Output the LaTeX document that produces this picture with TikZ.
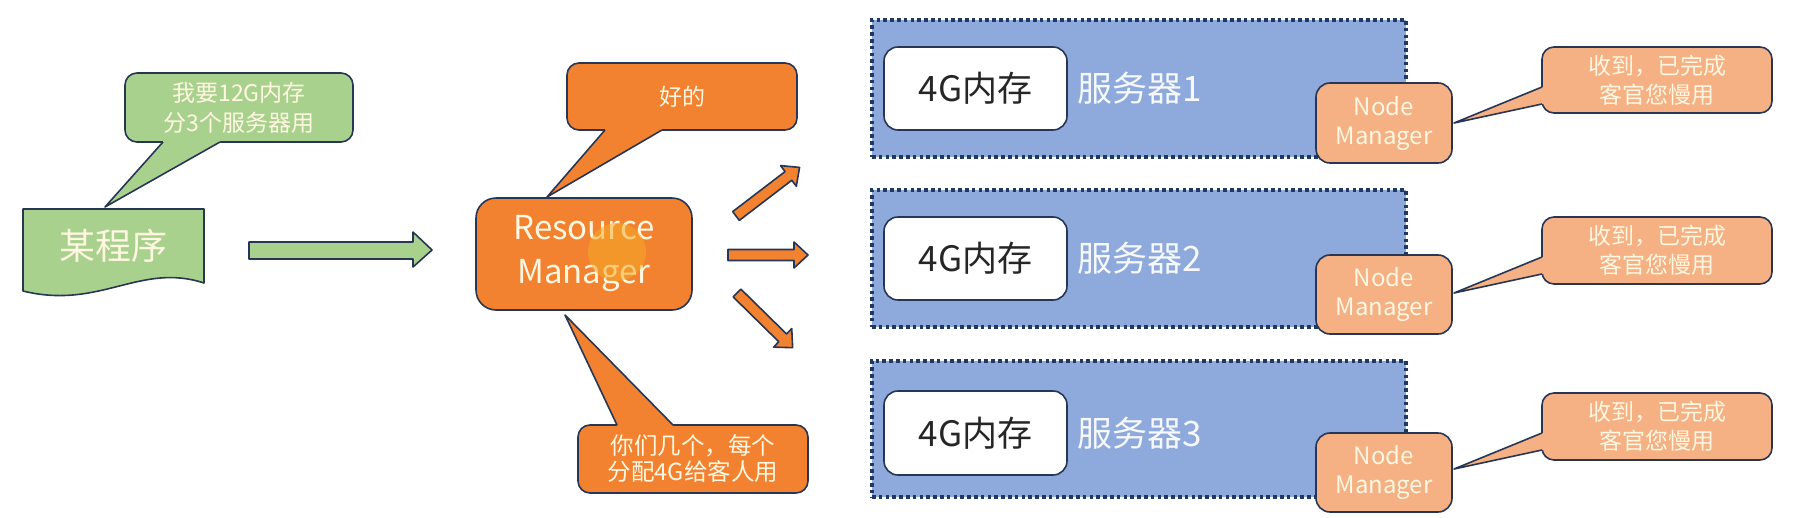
\documentclass[tikz,border=0pt]{standalone}
\usepackage{fontspec}
\setmainfont{Noto Sans CJK SC}
\usetikzlibrary{calc}
\definecolor{edge}{RGB}{40,54,86}
\definecolor{dotc}{RGB}{31,56,100}
\definecolor{greenf}{RGB}{169,209,142}
\definecolor{orangef}{RGB}{242,130,48}
\definecolor{lorange}{RGB}{245,177,131}
\definecolor{bluef}{RGB}{142,169,219}
\definecolor{cream}{RGB}{255,247,225}
\definecolor{glowc}{RGB}{246,170,40}
\definecolor{darktext}{RGB}{38,38,38}
\tikzset{
  outl/.style={draw=edge, line width=1.6pt, line join=round},
  rbox/.style={outl, rounded corners=#1, inner sep=0pt, align=center},
  srv/.style={draw=dotc, line width=3.6pt, dash pattern=on 3.6pt off 3.2pt, fill=bluef, minimum width=534pt, minimum height=137pt, inner sep=0pt},
  mem/.style={rbox=14pt, fill=white, text=darktext, minimum width=183pt, minimum height=83pt, font=\fontsize{35}{40}\selectfont},
  srvlabel/.style={anchor=west, inner sep=0pt, text=white!92!bluef, font=\fontsize{35}{40}\selectfont},
  nm/.style={rbox=14pt, fill=lorange, text=cream, minimum width=136pt, minimum height=80pt, font=\fontsize{24}{29}\selectfont},
  reply/.style={rbox=12pt, fill=lorange, text=cream, minimum width=230pt, minimum height=67pt, font=\fontsize{23}{29}\selectfont},
  talk/.style={rbox=12pt, text=cream, font=\fontsize{23}{29}\selectfont},
  tailline/.style={outl},
  blockarrow/.style={outl, fill=orangef},
}
\newcommand{\oarrow}[4]{%
  \begin{scope}[shift={(#1,#2)}, rotate=#3]
    \draw[blockarrow] (0,-5.5) -- (#4-14,-5.5) -- (#4-14,-13) -- (#4,0) -- (#4-14,13) -- (#4-14,5.5) -- (0,5.5) -- cycle;
  \end{scope}}
\begin{document}
\begin{tikzpicture}[x=1pt, y=-1pt]
\useasboundingbox (0,0) rectangle (1806,517);

% program document shape
\draw[outl, fill=greenf] (23,209) -- (204,209) -- (204,283) .. controls (140,262) and (100,310) .. (23,291) -- cycle;
\node[inner sep=0pt, text=cream, font=\fontsize{36}{40}\selectfont] (prog) at (113,246) {某程序};

% green callout
\node[talk, fill=greenf, minimum width=228pt, minimum height=69pt, font=\fontsize{23}{30}\selectfont] (gc) at (239,107.5) {我要12G内存\\分3个服务器用};
\fill[greenf] (105,207) -- (163,142) -- (163,139.5) -- (220,139.5) -- (220,142) -- cycle;
\draw[tailline] (163,142) -- (105,207) -- (220,142);

% green arrow
\draw[outl, fill=greenf] (249,242) -- (413,242) -- (413,232) -- (432,250) -- (413,267) -- (413,259) -- (249,259) -- cycle;

% resource manager
\node[rbox=20pt, fill=orangef, text=cream, minimum width=216pt, minimum height=112pt, font=\fontsize{33}{44}\selectfont] (rm) at (584,254) {Resource\\Manager};
\fill[glowc, opacity=0.55] (617,252) circle (29pt);

% "ok" callout
\node[talk, fill=orangef, minimum width=230pt, minimum height=67pt] (ok) at (682,96.5) {好的};
\fill[orangef] (547,197) -- (605,130) -- (605,127.5) -- (662,127.5) -- (662,130) -- cycle;
\draw[tailline] (605,130) -- (547,197) -- (662,130);

% assign callout
\node[talk, fill=orangef, minimum width=230pt, minimum height=68pt, font=\fontsize{23.5}{26}\selectfont] (as) at (693,459) {你们几个，每个\\分配4G给客人用};
\fill[orangef] (565,315) -- (617,425) -- (617,427.5) -- (673,427.5) -- (673,425) -- cycle;
\draw[tailline] (617,425) -- (565,315) -- (673,425);

% orange arrows
\oarrow{736}{216}{37.4}{80}
\oarrow{728}{255}{0}{80}
\oarrow{737}{293}{-44.5}{78}

% servers
\node[srv] (s1) at (1139,88.5) {};
\node[srv] (s2) at (1139,258.5) {};
\node[srv, minimum height=136pt] (s3) at (1139,429) {};

\node[mem] (m1) at (975.5,88.5) {4G内存};
\node[mem] (m2) at (975.5,258.5) {4G内存};
\node[mem, minimum height=84pt] (m3) at (975.5,433) {4G内存};

\node[srvlabel] (l1) at (1077,88.5) {服务器1};
\node[srvlabel] (l2) at (1077,258.5) {服务器2};
\node[srvlabel] (l3) at (1077,433) {服务器3};

\node[nm] (n1) at (1384,123) {Node\\Manager};
\node[nm, minimum height=79pt] (n2) at (1384,294.5) {Node\\Manager};
\node[nm, minimum height=79pt] (n3) at (1384,472.5) {Node\\Manager};

% reply callouts
\node[reply, minimum height=66pt] (r1) at (1657,80) {收到，已完成\\客官您慢用};
\node[reply] (r2) at (1657,250.5) {收到，已完成\\客官您慢用};
\node[reply] (r3) at (1657,426.5) {收到，已完成\\客官您慢用};

\fill[lorange] (1454,123) -- (1542,87) -- (1544.5,87) -- (1544.5,104) -- (1542,104) -- cycle;
\draw[tailline] (1542,87) -- (1454,123) -- (1542,104);
\fill[lorange] (1454,293) -- (1542,257) -- (1544.5,257) -- (1544.5,274) -- (1542,274) -- cycle;
\draw[tailline] (1542,257) -- (1454,293) -- (1542,274);
\fill[lorange] (1454,469) -- (1542,433) -- (1544.5,433) -- (1544.5,450) -- (1542,450) -- cycle;
\draw[tailline] (1542,433) -- (1454,469) -- (1542,450);
\end{tikzpicture}
\end{document}
